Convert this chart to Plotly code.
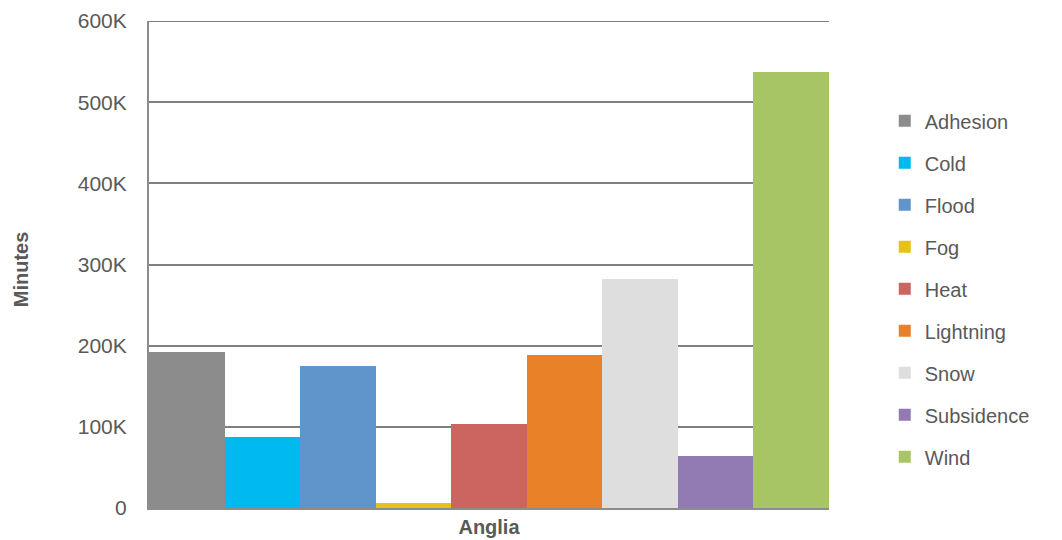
import plotly.graph_objects as go

categories = ["Anglia"]
series_names = ["Adhesion", "Cold", "Flood", "Fog", "Heat", "Lightning", "Snow", "Subsidence", "Wind"]
series_values = [192000, 87000, 175000, 6000, 104000, 188000, 282000, 64000, 537000]
series_colors = ["#8c8c8c", "#00b9ee", "#5f95cb", "#e6c218", "#cc6560", "#e98128", "#dedede", "#927ab3", "#a8c566"]
tick_vals = [0, 100000, 200000, 300000, 400000, 500000, 600000]
tick_labels = ["0", "100K", "200K", "300K", "400K", "500K", "600K"]
y_title = "Minutes"

fig = go.Figure()
for name, val, col in zip(series_names, series_values, series_colors):
    fig.add_trace(go.Bar(x=categories, y=[val], name=name, marker=dict(color=col, line=dict(width=0)),
                         legendgroup=name))

font_family = "Arial, Liberation Sans, sans-serif"
fig.update_layout(
    width=1062, height=540,
    margin=dict(l=149, r=233, t=21, b=32, autoexpand=False),
    paper_bgcolor="white", plot_bgcolor="white",
    barmode="group", bargap=0, bargroupgap=0,
    font=dict(family=font_family, size=20, color="#595959"),
    legend=dict(x=1.082, y=0.45, xanchor="left", yanchor="middle",
                bgcolor="rgba(0,0,0,0)",
                font=dict(size=20, color="#595959"), tracegroupgap=13,
                traceorder="grouped", itemwidth=30),
    xaxis=dict(domain=[0, 1], showline=True, linecolor="#8c8c8c", linewidth=2,
               tickvals=categories, ticktext=["<b>" + c + "</b>" for c in categories], ticks="",
               ticklabelstandoff=0, automargin=False,
               tickfont=dict(size=20, color="#595959")),
    yaxis=dict(range=[0, 600000], tickvals=tick_vals, ticktext=tick_labels,
               showgrid=True, gridcolor="#7f7f7f", gridwidth=2,
               showline=True, linecolor="#8c8c8c", linewidth=2, zeroline=False,
               ticks="", ticklen=0, ticklabelstandoff=16, automargin=False,
               tickfont=dict(size=21, color="#595959")),
    shapes=[dict(type="line", xref="paper", yref="y", x0=0, x1=1,
                 y0=tick_vals[-1], y1=tick_vals[-1], line=dict(color="#7f7f7f", width=2), layer="below")],
    annotations=[dict(text="<b>" + y_title + "</b>", xref="paper", yref="paper",
                      x=-0.187, y=0.49, textangle=-90, showarrow=False,
                      xanchor="center", yanchor="middle",
                      font=dict(size=20, color="#595959"))],
)
fig.write_html("out.html")
